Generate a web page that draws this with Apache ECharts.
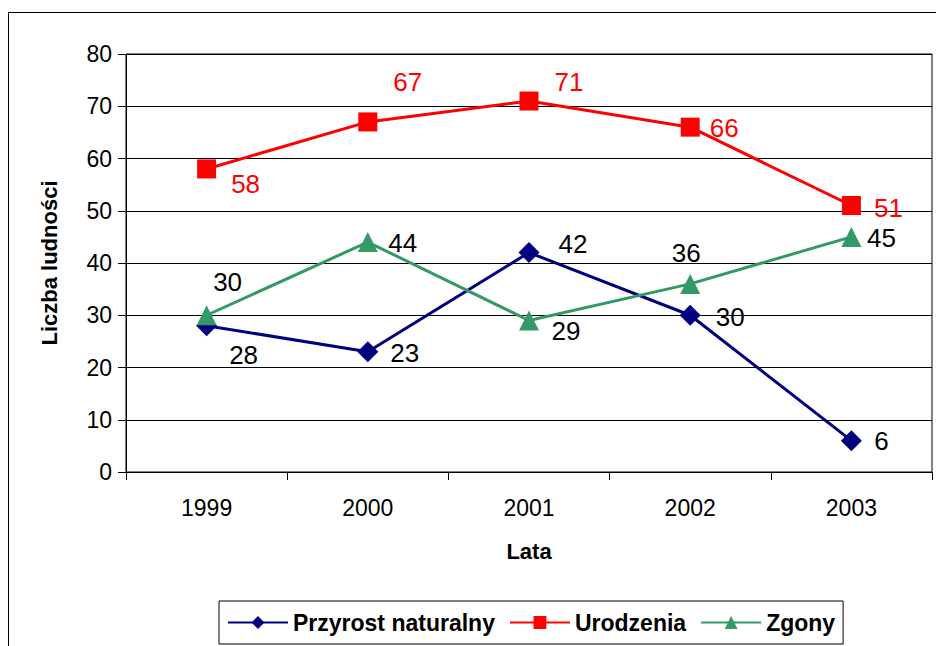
<!DOCTYPE html>
<html>
<head>
<meta charset="utf-8">
<script src="https://cdn.jsdelivr.net/npm/echarts@6/dist/echarts.min.js"></script>
<style>
  html, body { margin: 0; padding: 0; background: #fff; }
  #chart { width: 936px; height: 646px; }
</style>
</head>
<body>
<div id="chart"></div>
<script>
var years = ['1999', '2000', '2001', '2002', '2003'];
var przyrost = [28, 23, 42, 30, 6];
var urodzenia = [58, 67, 71, 66, 51];
var zgony = [30, 44, 29, 36, 45];

// label offsets (px from the marker centre)
var przyrostLbl = [[37, 29], [37, 1], [44, -9], [40, 2], [30, 0]];
var urodzeniaLbl = [[39, 15], [40, -40], [40, -19], [34, 1], [37, 2]];
var zgonyLbl = [[21, -33], [35, 1], [37, 11], [-4, -31], [30, 1]];

var font = 'Liberation Sans, Arial, sans-serif';

function withLabels(values, offsets, color) {
  return values.map(function(v, i) {
    return {
      value: v,
      label: { show: true, position: 'inside', offset: offsets[i], color: color, fontSize: 26, fontFamily: font }
    };
  });
}

var chart = echarts.init(document.getElementById('chart'), null, { renderer: 'svg' });
chart.setOption({
  animation: false,
  backgroundColor: '#fff',
  graphic: [{
    type: 'rect',
    shape: { x: 8.5, y: 12.5, width: 940, height: 650 },
    style: { fill: 'none', stroke: '#000', lineWidth: 1 },
    silent: true
  }],
  grid: { left: 126, right: 4, top: 54, bottom: 174, show: true, borderColor: '#000', borderWidth: 1 },
  legend: {
    bottom: 2,
    left: 219,
    itemWidth: 60,
    itemHeight: 16,
    itemGap: 14,
    padding: [10, 8, 10, 8],
    borderColor: '#000',
    borderWidth: 1,
    textStyle: { color: '#000', fontSize: 23, fontWeight: 'bold', fontFamily: font },
    data: ['Przyrost naturalny', 'Urodzenia', 'Zgony']
  },
  xAxis: {
    type: 'category',
    data: years,
    boundaryGap: true,
    name: 'Lata',
    nameLocation: 'middle',
    nameGap: 68,
    nameTextStyle: { color: '#000', fontSize: 22, fontWeight: 'bold', fontFamily: font },
    axisLine: { lineStyle: { color: '#000', width: 1 } },
    axisTick: { show: true, length: 8, inside: false, lineStyle: { color: '#000' } },
    axisLabel: { color: '#000', fontSize: 23, fontFamily: font, margin: 24 },
    splitLine: { show: false }
  },
  yAxis: {
    type: 'value',
    min: 0,
    max: 80,
    interval: 10,
    name: 'Liczba ludności',
    nameLocation: 'middle',
    nameGap: 66,
    nameTextStyle: { color: '#000', fontSize: 22, fontWeight: 'bold', fontFamily: font },
    axisLine: { show: true, lineStyle: { color: '#000', width: 1 } },
    axisTick: { show: true, length: 8, lineStyle: { color: '#000' } },
    axisLabel: { color: '#000', fontSize: 23, fontFamily: font, margin: 14 },
    splitLine: { show: true, lineStyle: { color: '#000', width: 1 } }
  },
  series: [
    {
      name: 'Przyrost naturalny',
      type: 'line',
      symbol: 'diamond',
      symbolSize: 21,
      lineStyle: { color: '#000080', width: 3 },
      itemStyle: { color: '#000080' },
      data: withLabels(przyrost, przyrostLbl, '#000')
    },
    {
      name: 'Urodzenia',
      type: 'line',
      symbol: 'rect',
      symbolSize: 19,
      lineStyle: { color: '#ff0000', width: 3 },
      itemStyle: { color: '#ff0000' },
      data: withLabels(urodzenia, urodzeniaLbl, '#ff0000')
    },
    {
      name: 'Zgony',
      type: 'line',
      symbol: 'triangle',
      symbolSize: 20,
      lineStyle: { color: '#339966', width: 3 },
      itemStyle: { color: '#339966' },
      data: withLabels(zgony, zgonyLbl, '#000')
    }
  ]
});
</script>
</body>
</html>
